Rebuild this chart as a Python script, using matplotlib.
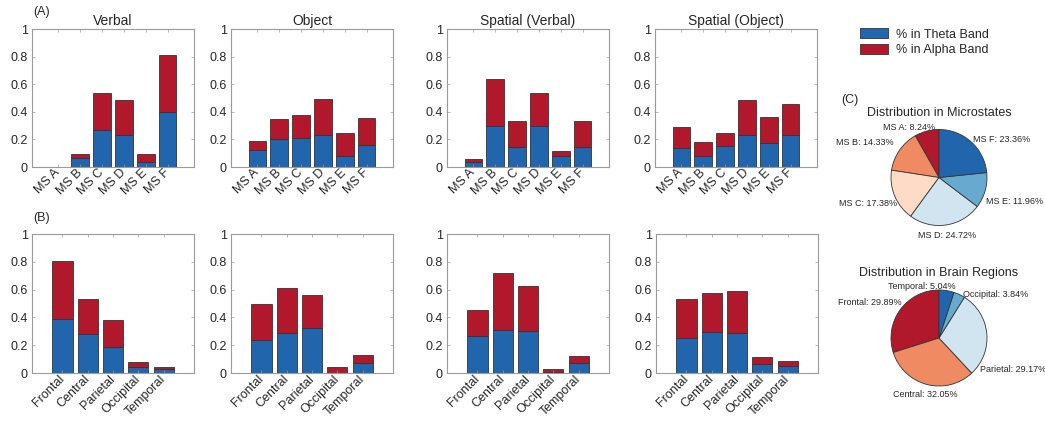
import numpy as np
import matplotlib
matplotlib.use("Agg")
import matplotlib.pyplot as plt
from matplotlib.transforms import ScaledTranslation

plt.rcParams['font.family'] = ['Liberation Sans', 'DejaVu Sans']

# ---------------- data ----------------
ms_labels = ["MS A", "MS B", "MS C", "MS D", "MS E", "MS F"]
region_labels = ["Frontal", "Central", "Parietal", "Occipital", "Temporal"]
task_titles = ["Verbal", "Object", "Spatial (Verbal)", "Spatial (Object)"]

# (A) microstates: theta share and total (theta + alpha)
ms_theta_verbal = [0.0, 0.065, 0.27, 0.23, 0.038, 0.40]
ms_total_verbal = [0.0, 0.092, 0.533, 0.483, 0.092, 0.812]
ms_theta_object = [0.12, 0.203, 0.212, 0.232, 0.078, 0.158]
ms_total_object = [0.188, 0.345, 0.378, 0.492, 0.25, 0.357]
ms_theta_spverbal = [0.038, 0.298, 0.148, 0.298, 0.078, 0.148]
ms_total_spverbal = [0.057, 0.637, 0.333, 0.534, 0.113, 0.333]
ms_theta_spobject = [0.141, 0.08, 0.153, 0.232, 0.175, 0.232]
ms_total_spobject = [0.287, 0.181, 0.25, 0.484, 0.362, 0.454]

# (B) brain regions
rg_theta_verbal = [0.386, 0.28, 0.186, 0.041, 0.029]
rg_total_verbal = [0.808, 0.532, 0.381, 0.08, 0.041]
rg_theta_object = [0.236, 0.287, 0.326, 0.0, 0.07]
rg_total_object = [0.496, 0.614, 0.56, 0.043, 0.128]
rg_theta_spverbal = [0.263, 0.311, 0.302, 0.007, 0.07]
rg_total_spverbal = [0.453, 0.72, 0.625, 0.029, 0.123]
rg_theta_spobject = [0.251, 0.295, 0.29, 0.063, 0.051]
rg_total_spobject = [0.532, 0.578, 0.587, 0.117, 0.087]

# (C) pies
pie_ms_values = [8.24, 14.33, 17.38, 24.72, 11.96, 23.36]
pie_ms_labels = ["MS A: 8.24%", "MS B: 14.33%", "MS C: 17.38%",
                 "MS D: 24.72%", "MS E: 11.96%", "MS F: 23.36%"]
pie_rg_values = [29.89, 32.05, 29.17, 3.84, 5.04]
pie_rg_labels = ["Frontal: 29.89%", "Central: 32.05%", "Parietal: 29.17%",
                 "Occipital: 3.84%", "Temporal: 5.04%"]

legend_labels = ["% in Theta Band", "% in Alpha Band"]

# ---------------- style ----------------
BLUE = "#2166AC"
RED = "#B2182B"
ms_pie_colors = ["#B2182B", "#EF8A62", "#FDDBC7", "#D1E5F0", "#67A9CF", "#2166AC"]
rg_pie_colors = ["#B2182B", "#EF8A62", "#D1E5F0", "#67A9CF", "#2166AC"]
SPINE = "#9A9A9A"
TXT = "#262626"

W, H = 1045, 424
fig = plt.figure(figsize=(W / 100, H / 100), dpi=100)


def rect(l, t, r, b):
    return [l / W, 1 - b / H, (r - l) / W, (b - t) / H]


lefts_top = [32, 231, 447, 655]
lefts_bot = [32, 231, 447, 656]
AXW = 162

top_data = [(ms_theta_verbal, ms_total_verbal), (ms_theta_object, ms_total_object),
            (ms_theta_spverbal, ms_total_spverbal), (ms_theta_spobject, ms_total_spobject)]
bot_data = [(rg_theta_verbal, rg_total_verbal), (rg_theta_object, rg_total_object),
            (rg_theta_spverbal, rg_total_spverbal), (rg_theta_spobject, rg_total_spobject)]


def bar_panel(ax, cats, theta, total, title=None):
    x = np.arange(1, len(cats) + 1)
    theta = np.asarray(theta)
    alpha = np.asarray(total) - theta
    hb = ax.bar(x, theta, width=0.8, color=BLUE, edgecolor="#333333", linewidth=0.6)
    hr = ax.bar(x, alpha, bottom=theta, width=0.8, color=RED, edgecolor="#333333", linewidth=0.6)
    ax.set_xlim(-0.2, len(cats) + 1.2)
    ax.set_ylim(0, 1)
    ax.set_yticks([0, 0.2, 0.4, 0.6, 0.8, 1.0])
    ax.set_yticklabels(["0", "0.2", "0.4", "0.6", "0.8", "1"])
    ax.set_xticks(x)
    ax.set_xticklabels(cats, rotation=45, ha="right", va="center", rotation_mode="anchor")
    off = ScaledTranslation(4 / 72, 0, fig.dpi_scale_trans)
    for lab in ax.get_xticklabels():
        lab.set_transform(lab.get_transform() + off)
    ax.tick_params(direction="in", length=2.5, width=0.5, colors=SPINE,
                   labelcolor=TXT, labelsize=9, top=True, right=True, pad=3)
    for s in ax.spines.values():
        s.set_color(SPINE)
        s.set_linewidth(0.8)
    if title:
        ax.set_title(title, fontsize=10, color=TXT, pad=3)
    return hb, hr


handles = None
for i in range(4):
    ax = fig.add_axes(rect(lefts_top[i], 29, lefts_top[i] + AXW, 167))
    th, tt = top_data[i]
    handles = bar_panel(ax, ms_labels, th, tt, task_titles[i])
for i in range(4):
    ax = fig.add_axes(rect(lefts_bot[i], 234, lefts_bot[i] + AXW, 373))
    th, tt = bot_data[i]
    bar_panel(ax, region_labels, th, tt)

fig.text(33 / W, 1 - 12 / H, "(A)", fontsize=9, color=TXT, va="center")
fig.text(33 / W, 1 - 218 / H, "(B)", fontsize=9, color=TXT, va="center")
fig.text(841 / W, 1 - 100 / H, "(C)", fontsize=9, color=TXT, va="center")

fig.legend(handles, legend_labels, loc="upper left",
           bbox_to_anchor=(860 / W, 1 - 28 / H), frameon=False, borderpad=0,
           borderaxespad=0, handlelength=2.2, handleheight=0.9, handletextpad=0.7,
           labelspacing=0.25, fontsize=9, labelcolor=TXT)

# ---------------- pies ----------------
R = 48


def pie_panel(cx, cy, values, labels, colors, title, title_y, label_layout):
    S = 2.5 * R
    ax = fig.add_axes(rect(cx - S / 2, cy - S / 2, cx + S / 2, cy + S / 2))
    wedges, _ = ax.pie(values, colors=colors, startangle=90, counterclock=True,
                       wedgeprops=dict(edgecolor="#333333", linewidth=0.6))
    ax.set_xlim(-1.25, 1.25)
    ax.set_ylim(-1.25, 1.25)
    ax.set_aspect("equal")
    for lab, (lx, ly, ha) in zip(labels, label_layout):
        ax.text(lx, ly, lab, ha=ha, va="center", fontsize=6.5, color=TXT)
    fig.text(cx / W, 1 - title_y / H, title, ha="center", va="center", fontsize=9, color=TXT)


ms_label_layout = [(-0.62, 1.05, "center"), (-0.94, 0.72, "right"), (-0.875, -0.55, "right"),
                   (0.17, -1.2, "center"), (0.98, -0.51, "left"), (0.71, 0.8, "left")]
rg_label_layout = [(-0.77, 0.73, "right"), (-0.29, -1.17, "center"), (0.85, -0.65, "left"),
                   (0.5, 0.9, "left"), (-0.35, 1.08, "center")]

pie_panel(939, 177.5, pie_ms_values, pie_ms_labels, ms_pie_colors,
          "Distribution in Microstates", 113, ms_label_layout)
pie_panel(939, 338, pie_rg_values, pie_rg_labels, rg_pie_colors,
          "Distribution in Brain Regions", 273, rg_label_layout)

fig.savefig("out.png", dpi=100)
